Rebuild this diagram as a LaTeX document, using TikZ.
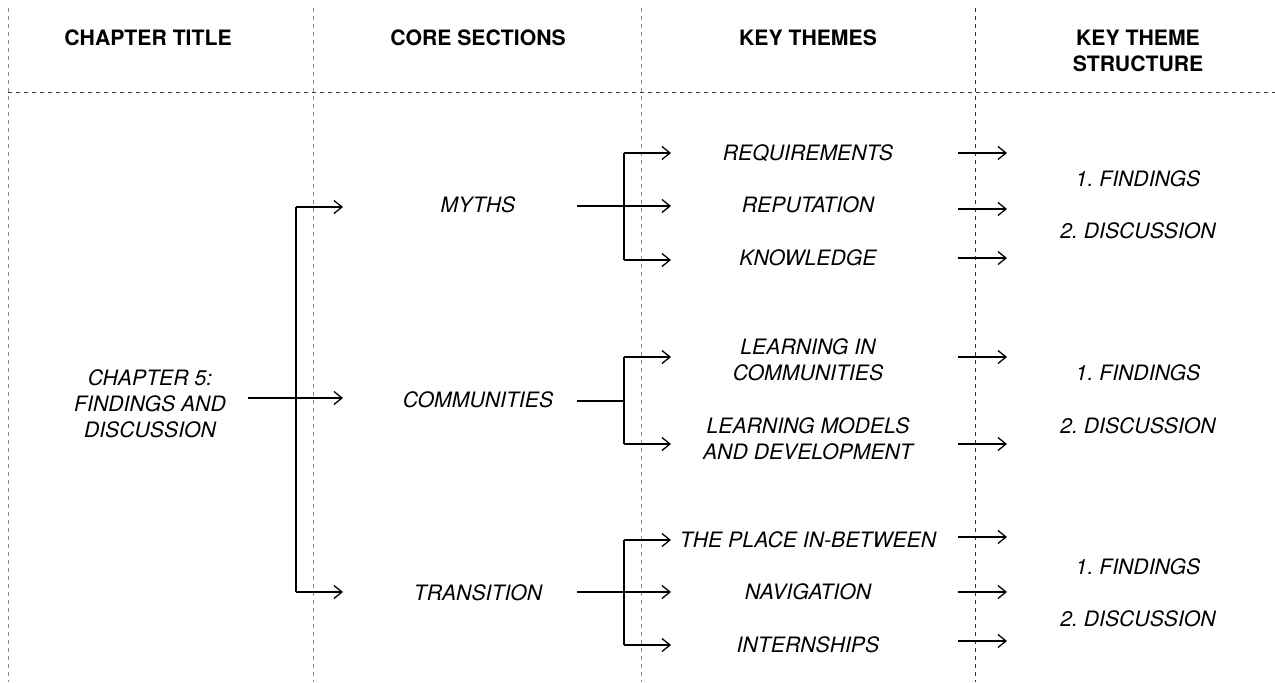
\documentclass[tikz,border=0pt]{standalone}
\usepackage{fontspec}
\setmainfont{TeX Gyre Heros}
\usetikzlibrary{arrows.meta}
\frenchspacing
\begin{document}
\begin{tikzpicture}[x=0.5pt,y=-0.5pt,
  grid/.style={line width=0.5pt,dash pattern=on 2pt off 2pt,draw=black!45},
  griddark/.style={line width=0.5pt,dash pattern=on 2pt off 2pt,draw=black!80},
  head/.style={font=\fontsize{10.6}{13}\selectfont\bfseries,align=center,inner sep=0pt},
  item/.style={font=\fontsize{10.6}{13}\selectfont\itshape,align=center,inner sep=0pt},
  link/.style={line width=0.65pt,draw=black},
  arr/.style={link,-{Straight Barb[length=4pt,width=6.5pt,line width=0.65pt]}}]
\useasboundingbox (0,0) rectangle (1275,682);

% column separators and header rule
\draw[grid] (8,8) -- (8,682);
\draw[grid] (313,8) -- (313,682);
\draw[grid] (641,8) -- (641,682);
\draw[griddark] (975,8) -- (975,682);
\draw[griddark] (8,92) -- (1275,92);

% column headings
\node[head] (h1) at (148,38) {CHAPTER TITLE};
\node[head] (h2) at (478,38) {CORE SECTIONS};
\node[head] (h3) at (808,38) {KEY THEMES};
\node[head] (h4) at (1138,51) {KEY THEME\\STRUCTURE};

% chapter
\node[item] (ch) at (150,404) {CHAPTER 5:\\FINDINGS AND\\DISCUSSION};

% core sections
\node[item] (s1) at (478,205) {MYTHS};
\node[item] (s2) at (478,400) {COMMUNITIES};
\node[item] (s3) at (478,593) {TRANSITION};

% key themes
\node[item] (t11) at (808,153) {REQUIREMENTS};
\node[item] (t12) at (808,205) {REPUTATION};
\node[item] (t13) at (808,258) {KNOWLEDGE};
\node[item] (t21) at (808,360) {LEARNING IN\\COMMUNITIES};
\node[item] (t22) at (808,439) {LEARNING MODELS\\AND DEVELOPMENT};
\node[item] (t31) at (808,540) {THE PLACE IN-BETWEEN};
\node[item] (t32) at (808,592) {NAVIGATION};
\node[item] (t33) at (808,645) {INTERNSHIPS};

% theme structure
\node[item] (f1) at (1138,179) {1. FINDINGS};
\node[item] (d1) at (1138,231) {2. DISCUSSION};
\node[item] (f2) at (1138,373) {1. FINDINGS};
\node[item] (d2) at (1138,426) {2. DISCUSSION};
\node[item] (f3) at (1138,567) {1. FINDINGS};
\node[item] (d3) at (1138,619) {2. DISCUSSION};

% chapter -> sections
\coordinate (c0) at (248,398);
\coordinate (c1) at (296,207);
\coordinate (c2) at (296,398);
\coordinate (c3) at (296,592);
\coordinate (e1) at (343,207);
\coordinate (e2) at (343,398);
\coordinate (e3) at (343,592);
\draw[link] (c0) -- (c2);
\draw[link] (c1) -- (c3);
\draw[arr] (c1) -- (e1);
\draw[arr] (c2) -- (e2);
\draw[arr] (c3) -- (e3);

% myths -> themes
\coordinate (m0) at (577,206);
\coordinate (m1) at (624,153);
\coordinate (m2) at (624,206);
\coordinate (m3) at (624,260);
\draw[link] (m0) -- (m2);
\draw[link] (m1) -- (m3);
\draw[arr] (m1) -- (671,153);
\draw[arr] (m2) -- (671,206);
\draw[arr] (m3) -- (671,260);

% communities -> themes
\coordinate (k0) at (577,401);
\coordinate (k1) at (624,357);
\coordinate (k2) at (624,401);
\coordinate (k3) at (624,444);
\draw[link] (k0) -- (k2);
\draw[link] (k1) -- (k3);
\draw[arr] (k1) -- (671,357);
\draw[arr] (k3) -- (671,444);

% transition -> themes
\coordinate (r0) at (577,592);
\coordinate (r1) at (624,540);
\coordinate (r2) at (624,592);
\coordinate (r3) at (624,645);
\draw[link] (r0) -- (r2);
\draw[link] (r1) -- (r3);
\draw[arr] (r1) -- (671,540);
\draw[arr] (r2) -- (671,592);
\draw[arr] (r3) -- (671,645);

% themes -> structure
\foreach \y [count=\i] in {153,209,258,357,444,537,592,641}{
  \coordinate (a\i) at (958,\y);
  \coordinate (b\i) at (1007,\y);
  \draw[arr] (a\i) -- (b\i);
}
\end{tikzpicture}
\end{document}
